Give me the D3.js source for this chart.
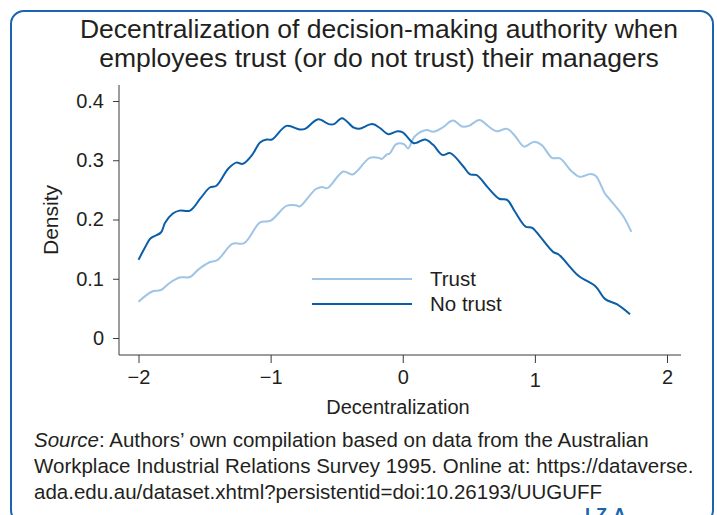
<!DOCTYPE html>
<html>
<head>
<meta charset="utf-8">
<script src="https://cdn.jsdelivr.net/npm/d3@7"></script>
<style>
  body { margin: 0; background: #fff; }
  svg { display: block; font-family: "Liberation Sans", Arial, sans-serif; }
</style>
</head>
<body>
<div id="chart"></div>
<script>
// values
const trustX = [-2.00, -1.90, -1.83, -1.77, -1.69, -1.61, -1.55, -1.47, -1.40, -1.29, -1.20, -1.08, -1.00,
  -0.88, -0.81, -0.78, -0.66, -0.61, -0.57, -0.45, -0.38, -0.25, -0.18, -0.16, -0.12, -0.10, -0.05, 0.01,
  0.04, 0.09, 0.18, 0.23, 0.30, 0.38, 0.45, 0.50, 0.58, 0.65, 0.71, 0.79, 0.85, 0.92, 0.99, 1.05, 1.13,
  1.19, 1.28, 1.34, 1.42, 1.46, 1.53, 1.57, 1.67, 1.73]
const trustY = [0.061, 0.078, 0.081, 0.092, 0.102, 0.103, 0.115, 0.127, 0.132, 0.159, 0.160, 0.195, 0.198,
  0.223, 0.224, 0.222, 0.251, 0.255, 0.253, 0.281, 0.276, 0.304, 0.304, 0.302, 0.310, 0.311, 0.327, 0.327,
  0.320, 0.340, 0.351, 0.348, 0.355, 0.367, 0.357, 0.358, 0.368, 0.357, 0.349, 0.353, 0.341, 0.323, 0.331,
  0.326, 0.304, 0.303, 0.281, 0.272, 0.277, 0.274, 0.244, 0.233, 0.205, 0.179]

const noTrustX = [-2.00, -1.95, -1.91, -1.83, -1.80, -1.74, -1.69, -1.61, -1.53, -1.46, -1.41, -1.32, -1.26,
  -1.21, -1.14, -1.08, -1.03, -0.99, -0.88, -0.78, -0.74, -0.64, -0.56, -0.52, -0.46, -0.37, -0.33, -0.23,
  -0.17, -0.11, -0.04, 0.00, 0.08, 0.11, 0.17, 0.23, 0.30, 0.36, 0.46, 0.51, 0.56, 0.64, 0.73, 0.79, 0.85,
  0.93, 0.98, 1.04, 1.14, 1.18, 1.33, 1.46, 1.53, 1.62, 1.72]
const noTrustY = [0.132, 0.153, 0.168, 0.178, 0.194, 0.210, 0.215, 0.215, 0.236, 0.254, 0.257, 0.286, 0.296,
  0.294, 0.309, 0.330, 0.335, 0.335, 0.358, 0.352, 0.353, 0.369, 0.361, 0.361, 0.371, 0.355, 0.353, 0.361,
  0.354, 0.344, 0.349, 0.347, 0.329, 0.330, 0.335, 0.326, 0.309, 0.312, 0.289, 0.276, 0.275, 0.255, 0.235,
  0.233, 0.213, 0.188, 0.186, 0.171, 0.145, 0.141, 0.105, 0.087, 0.066, 0.057, 0.040]

const xTicks = [-2, -1, 0, 1, 2]
const yTicks = [0, 0.1, 0.2, 0.3, 0.4]
const seriesNames = ['Trust', 'No trust']
const titleLines = ['Decentralization of decision-making authority when',
  'employees trust (or do not trust) their managers']
const sourceLines = [
  ': Authors\u2019 own compilation based on data from the Australian',
  'Workplace Industrial Relations Survey 1995. Online at: https://dataverse.',
  'ada.edu.au/dataset.xhtml?persistentid=doi:10.26193/UUGUFF'
]

const width = 717, height = 515
const textCol = '#231f20'
const colors = ['#9fc4e6', '#0a5ea8']
const blue = '#1a64ae'

const svg = d3.select('#chart').append('svg')
  .attr('width', width)
  .attr('height', height)

// rounded frame, running off the bottom
svg.append('rect')
  .attr('x', 11).attr('y', 11)
  .attr('width', 702).attr('height', 512)
  .attr('rx', 13)
  .attr('fill', 'none')
  .attr('stroke', blue)
  .attr('stroke-width', 2)

svg.append('g').selectAll('text')
  .data(titleLines)
  .join('text')
  .attr('x', 379)
  .attr('y', (d, i) => 38 + i * 29)
  .attr('text-anchor', 'middle')
  .attr('font-size', 26.5)
  .attr('fill', textCol)
  .text(d => d)

const x = d3.scaleLinear().domain([-2, 2]).range([138.5, 667])
const y = d3.scaleLinear().domain([0, 0.4]).range([338, 101])

const axisCol = '#3a3a3a'
// axis lines
svg.append('line')
  .attr('x1', 119).attr('x2', 119).attr('y1', 85).attr('y2', 355)
  .attr('stroke', axisCol)
svg.append('line')
  .attr('x1', 119).attr('x2', 681).attr('y1', 355).attr('y2', 355)
  .attr('stroke', axisCol)

const yAxis = svg.append('g')
  .attr('transform', 'translate(119,0)')
  .call(d3.axisLeft(y).tickValues(yTicks).tickSize(6).tickPadding(9)
    .tickFormat(d => d === 0 ? '0' : d3.format('.1f')(d)))
yAxis.select('.domain').remove()
yAxis.selectAll('line').attr('stroke', axisCol)
yAxis.selectAll('text').attr('font-size', 20).attr('fill', textCol).attr('font-family', null)

const xAxis = svg.append('g')
  .attr('transform', 'translate(0,355)')
  .call(d3.axisBottom(x).tickValues(xTicks).tickSize(8).tickPadding(7)
    .tickFormat(d3.format('d')))
xAxis.select('.domain').remove()
xAxis.selectAll('line').attr('stroke', axisCol)
xAxis.selectAll('text').attr('font-size', 20).attr('fill', textCol).attr('font-family', null)
  .attr('dy', d => d === 1 ? '0.86em' : '0.71em')

svg.append('text')
  .attr('transform', 'translate(58,220) rotate(-90)')
  .attr('text-anchor', 'middle')
  .attr('font-size', 21)
  .attr('fill', textCol)
  .text('Density')

svg.append('text')
  .attr('x', 398).attr('y', 414)
  .attr('text-anchor', 'middle')
  .attr('font-size', 20)
  .attr('fill', textCol)
  .text('Decentralization')

const line = d3.line()
  .x(d => x(d[0]))
  .y(d => y(d[1]))
  .curve(d3.curveCatmullRom.alpha(0.5))

const series = [d3.zip(trustX, trustY), d3.zip(noTrustX, noTrustY)]

svg.append('g').selectAll('path')
  .data(series)
  .join('path')
  .attr('d', line)
  .attr('fill', 'none')
  .attr('stroke', (d, i) => colors[i])
  .attr('stroke-width', 2)

// legend
const legend = svg.append('g').selectAll('g')
  .data(seriesNames)
  .join('g')
  .attr('transform', (d, i) => `translate(312,${279 + i * 25})`)
legend.append('line')
  .attr('x1', 0).attr('x2', 100)
  .attr('stroke', (d, i) => colors[i])
  .attr('stroke-width', 2)
legend.append('text')
  .attr('x', 118).attr('dy', '0.35em')
  .attr('font-size', 20.5)
  .attr('fill', textCol)
  .text(d => d)

// source note
const src = svg.append('g').selectAll('text')
  .data(sourceLines)
  .join('text')
  .attr('x', 34)
  .attr('y', (d, i) => 447 + i * 26)
  .attr('font-size', 20.5)
  .attr('fill', textCol)
src.filter((d, i) => i === 0).append('tspan').attr('font-style', 'italic').text('Source')
src.append('tspan').text(d => d)

svg.append('text')
  .attr('x', 585).attr('y', 521)
  .attr('font-size', 18)
  .attr('font-weight', 'bold')
  .attr('letter-spacing', 6)
  .attr('fill', blue)
  .text('IZA')
</script>
</body>
</html>
